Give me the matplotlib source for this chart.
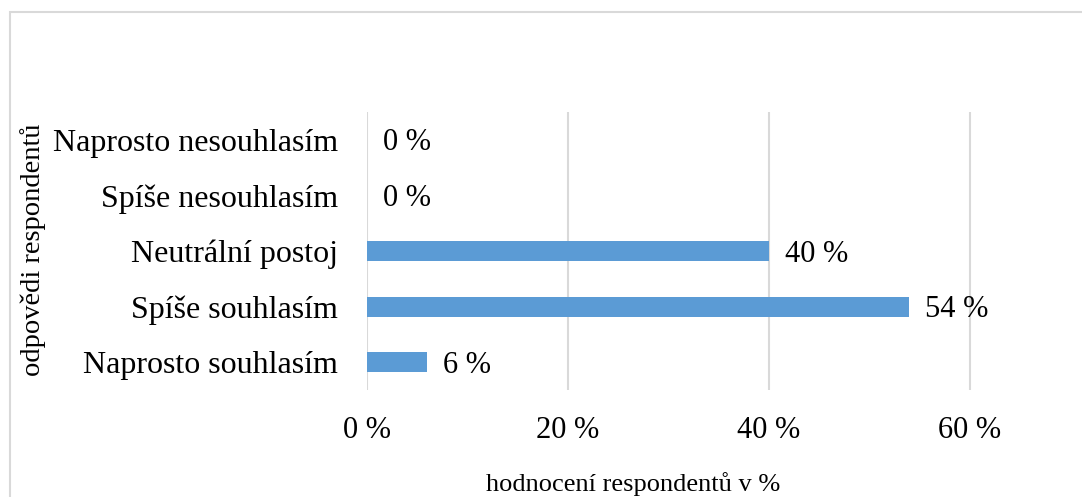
import matplotlib
matplotlib.use("Agg")
import matplotlib.pyplot as plt
from matplotlib.patches import Rectangle

# answers (bottom to top) and share of respondents in %
categories = ["Naprosto souhlasím", "Spíše souhlasím", "Neutrální postoj",
              "Spíše nesouhlasím", "Naprosto nesouhlasím"]
values = [6, 54, 40, 0, 0]
xticks = [0, 20, 40, 60]

plt.rcParams["font.family"] = ["Liberation Serif", "DejaVu Serif"]
W, H = 1082, 497
fig = plt.figure(figsize=(W / 100, H / 100), dpi=100)

# plot area in pixels: x 367..1082, y 112..390
ax = fig.add_axes([367 / W, 1 - 390 / H, (W - 367) / W, (390 - 112) / H])
y = range(len(categories))
ax.barh(y, values, height=0.36, color="#5B9BD5", zorder=3)
ax.set_ylim(-0.5, len(categories) - 0.5)
ax.set_xlim(0, 71.2)

for i, v in enumerate(values):
    ax.annotate(f"{v} %", (v, i), xytext=(16, -3), textcoords="offset pixels",
                va="center", ha="left", fontsize=22, color="black")

ax.set_yticks(list(y))
ax.set_yticklabels(categories, fontsize=23)
ax.set_xticks(xticks)
ax.set_xticklabels([f"{t} %" for t in xticks], fontsize=22)
ax.tick_params(axis="y", length=0, pad=21)
ax.tick_params(axis="x", length=0, pad=19)
ax.grid(axis="x", color="#D9D9D9", linewidth=1.5, zorder=0)
for s in ax.spines.values():
    s.set_visible(False)

fig.text(633 / W, 1 - 484 / H, "hodnocení respondentů v %", ha="center",
         va="center", fontsize=19)
fig.text(33 / W, 1 - 250 / H, "odpovědi respondentů", ha="center",
         va="center", rotation=90, fontsize=20.5)

# chart frame
fig.patches.append(Rectangle((10 / W, -0.1), 1.2, 1 - 12 / H + 0.1,
                             transform=fig.transFigure, fill=False,
                             edgecolor="#D9D9D9", linewidth=1.5))

fig.savefig("out.png", dpi=100)
